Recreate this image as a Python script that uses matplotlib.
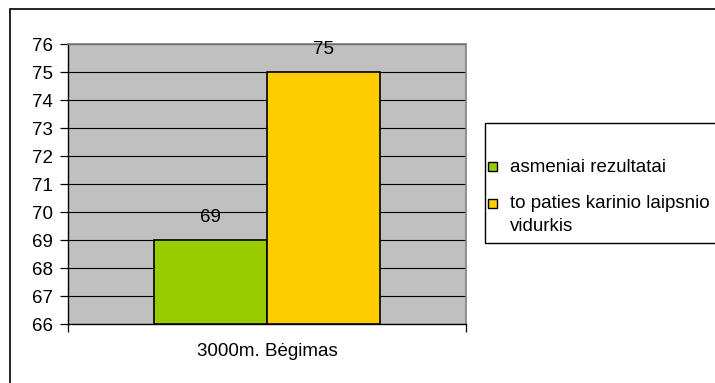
import matplotlib
matplotlib.use("Agg")
import matplotlib.pyplot as plt
from matplotlib.patches import Rectangle

plt.rcParams['font.family'] = ['Liberation Sans', 'DejaVu Sans']

CATEGORY = "3000m. Bėgimas"
SERIES = ["asmeniai rezultatai", "to paties karinio laipsnio\nvidurkis"]
VALUES = [69, 75]
COLORS = ["#99CC00", "#FFCC00"]
Y_TICKS = list(range(66, 77))

W, H = 715, 383
fig = plt.figure(figsize=(W / 100, H / 100), dpi=100)

# outer chart frame (runs off the right and bottom edges)
fig.patches.append(Rectangle((10 / W, -0.1), 1.2, 1 - 9 / H + 0.1,
                             transform=fig.transFigure, fill=False,
                             edgecolor="black", linewidth=1.2))

ax = fig.add_axes([68 / W, 1 - 324 / H, (466 - 68) / W, (324 - 44) / H])
ax.set_facecolor("#C0C0C0")

bar_w = 0.284
xs = [-bar_w / 2, bar_w / 2]
bars = ax.bar(xs, [v - Y_TICKS[0] for v in VALUES], width=bar_w,
              bottom=Y_TICKS[0], color=COLORS, edgecolor="black",
              linewidth=1.2, zorder=3)
for x, v in zip(xs, VALUES):
    ax.annotate(str(v), (x, v), xytext=(0, 16), textcoords="offset points",
                ha="center", va="center", fontsize=13.5)

ax.set_xlim(-0.5, 0.5)
ax.set_ylim(Y_TICKS[0], Y_TICKS[-1])
ax.set_yticks(Y_TICKS)
ax.yaxis.grid(True, color="black", linewidth=0.8, zorder=1)
ax.set_axisbelow(True)
ax.tick_params(axis="y", length=6, width=0.9, labelsize=13.5, pad=5)
ax.set_xticks([-0.5, 0.5])
ax.set_xticklabels(["", ""])
ax.tick_params(axis="x", length=6, width=0.9)
ax.text(0.5, -0.1, CATEGORY, transform=ax.transAxes, ha="center",
        va="center", fontsize=13.5)

for side in ("top", "right"):
    ax.spines[side].set_color("#808080")
    ax.spines[side].set_linewidth(1.2)
for side in ("left", "bottom"):
    ax.spines[side].set_linewidth(1.0)

# legend box, cut off by the right edge
fig.patches.append(Rectangle((485 / W, 1 - 243 / H), 0.5, (243 - 123) / H,
                             transform=fig.transFigure, facecolor="white",
                             edgecolor="black", linewidth=1.0))
entry_y = [167, 203]
for label, color, y in zip(SERIES, COLORS, entry_y):
    fig.patches.append(Rectangle((488 / W, 1 - (y + 4.5) / H), 9 / W, 9 / H,
                                 transform=fig.transFigure, facecolor=color,
                                 edgecolor="black", linewidth=1.0))
    fig.text(510 / W, 1 - (y - 8) / H, label, ha="left", va="top",
             fontsize=13.5, linespacing=1.45)

fig.savefig("out.png", dpi=100)
